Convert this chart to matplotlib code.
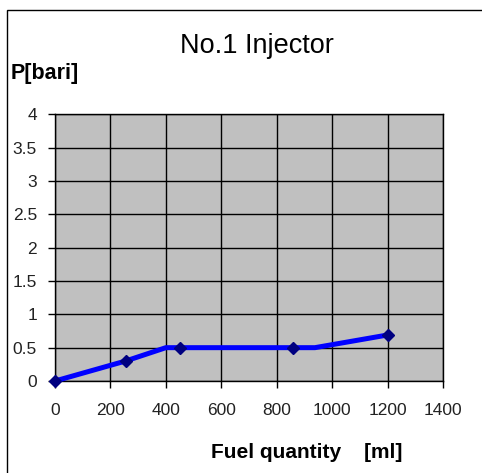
import matplotlib
matplotlib.use("Agg")
import matplotlib.pyplot as plt
from matplotlib.patches import Rectangle

# line vertices (ml, bar) and which of them carry a marker
fuel_ml = [0, 255, 400, 452, 860, 938, 1200]
pressure_bar = [0, 0.3, 0.5, 0.5, 0.5, 0.5, 0.69]
marker_idx = [0, 1, 3, 4, 6]

x_ticks = [0, 200, 400, 600, 800, 1000, 1200, 1400]
y_ticks = [0, 0.5, 1, 1.5, 2, 2.5, 3, 3.5, 4]
y_labels = ["0", "0.5", "1", "1.5", "2", "2.5", "3", "3.5", "4"]

plt.rcParams["font.family"] = ["Liberation Sans", "DejaVu Sans"]

fig = plt.figure(figsize=(4.82, 4.73), dpi=100)
fig.patch.set_facecolor("white")

# outer chart frame (runs off the right/bottom edge like the reference)
fig.add_artist(Rectangle((7 / 482, -0.1), 1.0, 1 - 10 / 473 + 0.1,
                         transform=fig.transFigure, fill=False,
                         edgecolor="black", linewidth=1.0))

ax = fig.add_axes([55 / 482, 92 / 473, 388 / 482, 266.7 / 473])
ax.set_facecolor("#C0C0C0")
ax.plot(fuel_ml, pressure_bar, color="#0000FF", linewidth=3.6,
        marker="D", markersize=6.5, markerfacecolor="#000080",
        markeredgecolor="#000080", markevery=marker_idx, clip_on=False,
        zorder=3)

ax.set_xlim(0, 1400)
ax.set_ylim(0, 4)
ax.set_xticks(x_ticks)
ax.set_yticks(y_ticks)
ax.set_yticklabels(y_labels)
ax.grid(True, color="black", linewidth=1.0)
ax.set_axisbelow(True)
for s in ax.spines.values():
    s.set_color("black")
    s.set_linewidth(1.0)
ax.tick_params(axis="both", direction="out", length=5, width=1,
               labelsize=12.5, labelcolor="#222222")
ax.tick_params(axis="x", pad=11)
ax.tick_params(axis="y", pad=8)

fig.text(257 / 482, 1 - 46 / 473, "No.1 Injector", ha="center",
         va="center", fontsize=19.5)
fig.text(11 / 482, 1 - 74 / 473, "P[bari]", ha="left", va="center",
         fontsize=15.5, fontweight="bold")
fig.text(307 / 482, 1 - 452 / 473, "Fuel quantity    [ml]", ha="center",
         va="center", fontsize=15, fontweight="bold")

fig.savefig("out.png", dpi=100)
